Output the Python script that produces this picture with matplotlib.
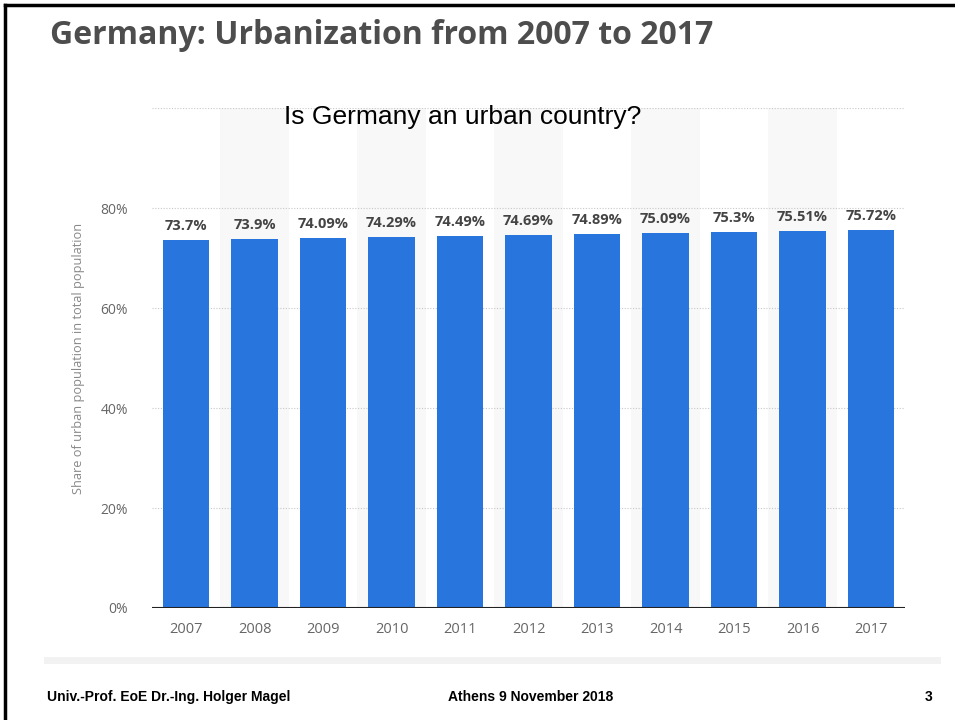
import matplotlib
matplotlib.use("Agg")
import matplotlib.pyplot as plt
from matplotlib.lines import Line2D

years = ["2007", "2008", "2009", "2010", "2011", "2012", "2013", "2014", "2015", "2016", "2017"]
urban_share = [73.7, 73.9, 74.09, 74.29, 74.49, 74.69, 74.89, 75.09, 75.3, 75.51, 75.72]
value_labels = ["73.7%", "73.9%", "74.09%", "74.29%", "74.49%", "74.69%",
                "74.89%", "75.09%", "75.3%", "75.51%", "75.72%"]
y_ticks = [0, 20, 40, 60, 80]
y_tick_labels = ["0%", "20%", "40%", "60%", "80%"]

BAR_BLUE = "#2876dd"

fig = plt.figure(figsize=(9.55, 7.2), dpi=100)
ax = fig.add_axes([0.159, 0.1556, 0.789, 0.694])

x = list(range(len(years)))
# alternating light column bands
for i in x:
    if i % 2 == 1:
        ax.axvspan(i - 0.5, i + 0.5, color="#f8f8f8", zorder=0, lw=0)

ax.bar(x, urban_share, width=0.68, color=BAR_BLUE, zorder=2)

for xi, v, lab in zip(x, urban_share, value_labels):
    ax.annotate(lab, (xi, v), xytext=(0, 5), textcoords="offset points",
                ha="center", va="bottom", fontsize=10.5, fontweight="bold",
                color="#444444", family="Open Sans", zorder=3)

ax.set_xlim(-0.5, len(years) - 0.5)
ax.set_ylim(0, 100)
for g in [20, 40, 60, 80, 100]:
    ax.axhline(g, color="#c8c8c8", lw=0.8, ls=(0, (1, 1.5)), zorder=1)
ax.axhline(0, color="#222222", lw=1.5, zorder=3)

ax.set_xticks(x)
ax.set_xticklabels(years, family="Open Sans", fontsize=10.5, color="#666666")
ax.set_yticks(y_ticks)
ax.set_yticklabels(y_tick_labels, family="Open Sans", fontsize=10, color="#666666")
ax.tick_params(axis="both", length=0)
ax.tick_params(axis="y", pad=17)
ax.tick_params(axis="x", pad=10)
for s in ax.spines.values():
    s.set_visible(False)
ax.set_ylabel("Share of urban population in total population", family="Open Sans",
              fontsize=9.2, color="#888888", labelpad=11)

# slide title and question
fig.text(50 / 955, 1 - 35 / 720, "Germany: Urbanization from 2007 to 2017",
         family="Open Sans", fontweight="bold", fontsize=23, color="#4d4d4d",
         ha="left", va="center")
fig.text(463 / 955, 1 - 117 / 720, "Is Germany an urban country?",
         family="Liberation Sans", fontsize=19, color="black",
         ha="center", va="center")

# light footer strip under the chart
fig.add_artist(Line2D([47 / 955, 937 / 955], [1 - 660 / 720] * 2,
                      color="#f2f2f2", lw=5))

# slide footer
foot = dict(family="Liberation Sans", fontweight="bold", fontsize=10,
            color="black", va="center")
fig.text(47 / 955, 1 - 697 / 720, "Univ.-Prof. EoE Dr.-Ing. Holger Magel", ha="left", **foot)
fig.text(531 / 955, 1 - 697 / 720, "Athens 9 November 2018", ha="center", **foot)
fig.text(929 / 955, 1 - 697 / 720, "3", ha="center", **foot)

# slide frame (top and left edges)
fig.add_artist(Line2D([5 / 955, 1.0], [1 - 5 / 720] * 2, color="black", lw=2.5))
fig.add_artist(Line2D([5 / 955] * 2, [0.0, 1 - 5 / 720], color="black", lw=2.5))

fig.savefig("out.png", dpi=100)
